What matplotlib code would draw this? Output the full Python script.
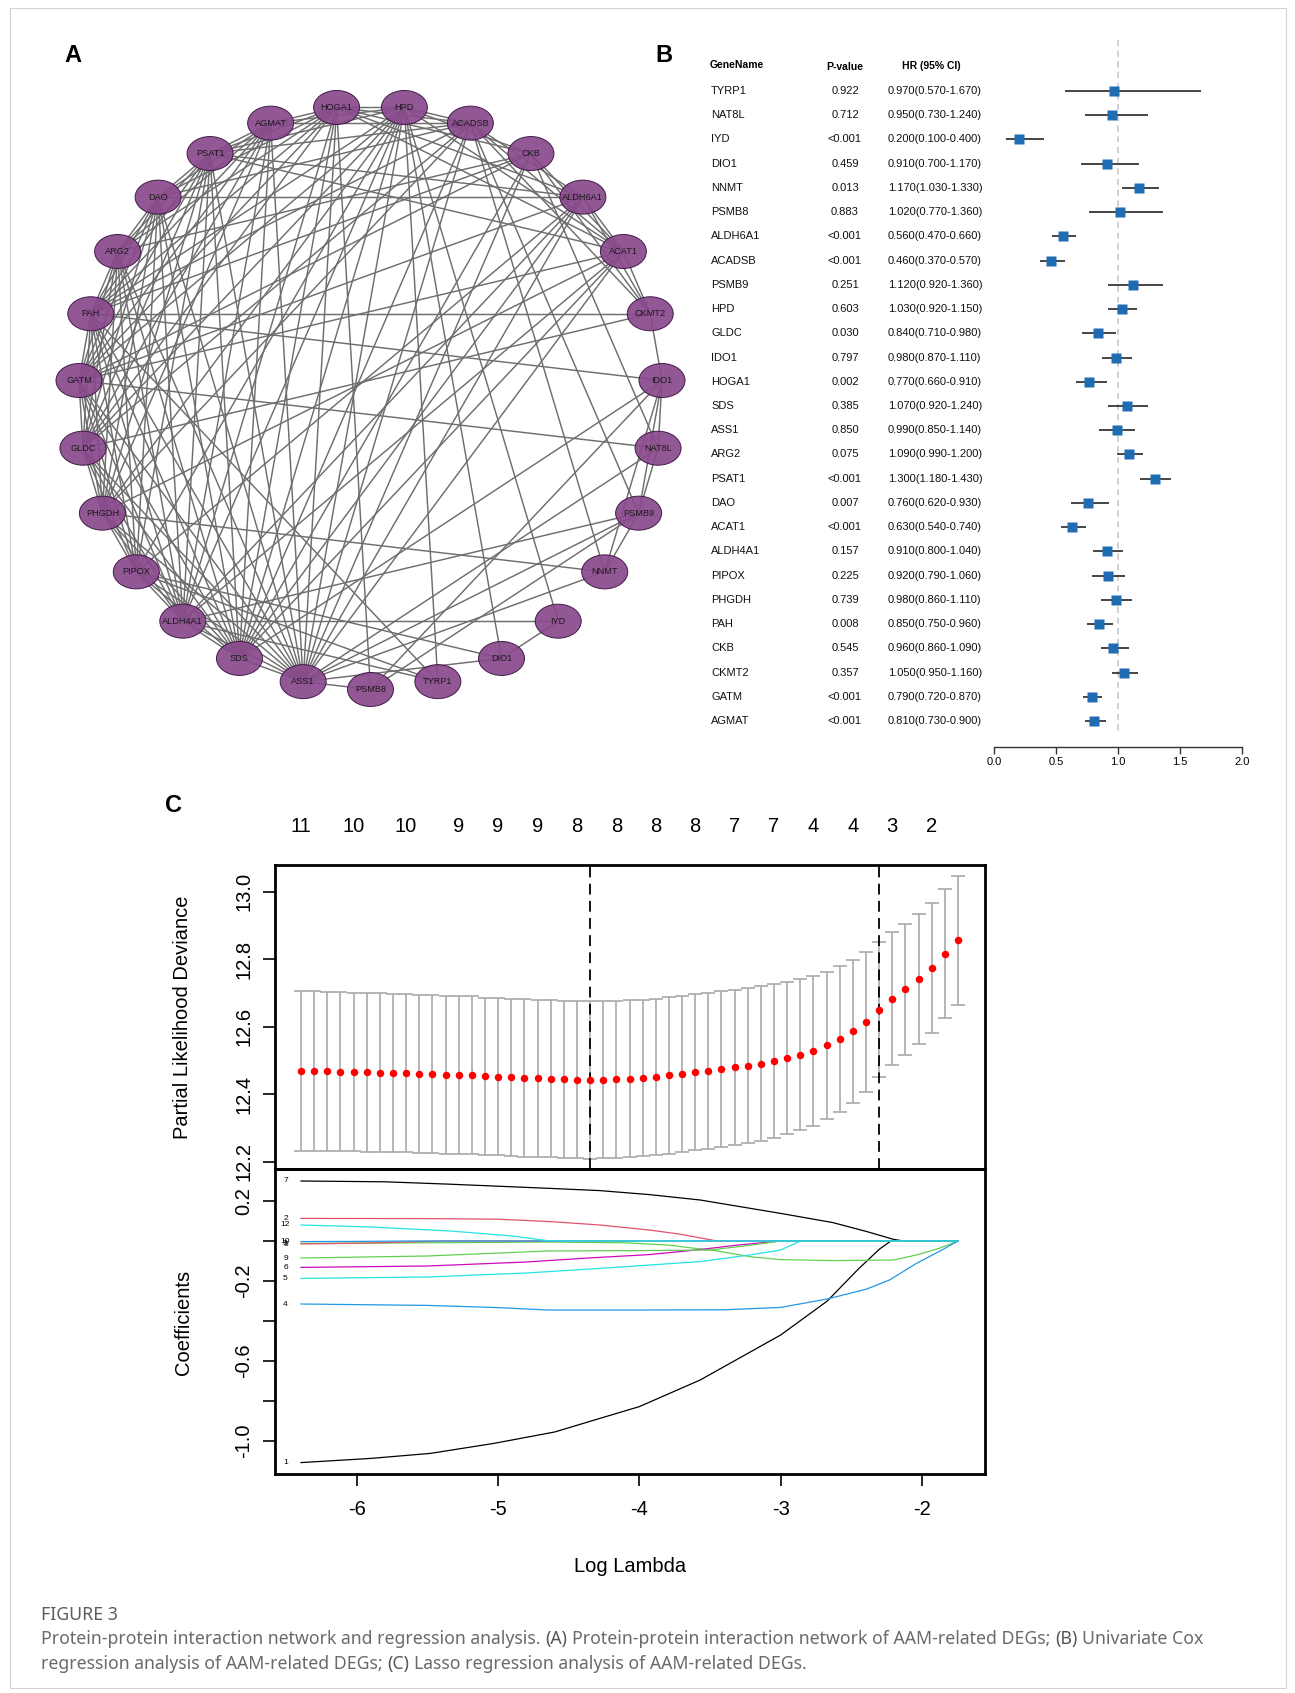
import matplotlib
matplotlib.use('Agg')
import matplotlib.pyplot as plt
from matplotlib.patches import Ellipse, Rectangle
import numpy as np

W, H, DPI = 1295, 1693, 100
plt.rcParams['font.family'] = ['Liberation Sans', 'DejaVu Sans']

# ---------------- data ----------------
# Panel A: PPI network (circular layout, clockwise from top)
net_nodes = ['HPD', 'ACADSB', 'CKB', 'ALDH6A1', 'ACAT1', 'CKMT2', 'IDO1', 'NAT8L',
             'PSMB9', 'NNMT', 'IYD', 'DIO1', 'TYRP1', 'PSMB8', 'ASS1', 'SDS',
             'ALDH4A1', 'PIPOX', 'PHGDH', 'GLDC', 'GATM', 'PAH', 'ARG2', 'DAO',
             'PSAT1', 'AGMAT', 'HOGA1']
core_nodes = ['ASS1', 'SDS', 'ALDH4A1', 'PIPOX', 'PHGDH', 'GLDC', 'GATM', 'PAH',
              'ARG2', 'DAO', 'PSAT1', 'AGMAT', 'HOGA1']
core_missing = [('PIPOX', 'AGMAT'), ('PIPOX', 'HOGA1'), ('PHGDH', 'HOGA1')]
extra_edges = [
    ('HPD', 'HOGA1'), ('HPD', 'AGMAT'), ('HPD', 'PSAT1'), ('HPD', 'PAH'), ('HPD', 'GATM'),
    ('HPD', 'GLDC'), ('HPD', 'PHGDH'), ('HPD', 'ASS1'), ('HPD', 'SDS'), ('HPD', 'ALDH4A1'),
    ('HPD', 'TYRP1'), ('HPD', 'DIO1'), ('HPD', 'IYD'), ('HPD', 'ACADSB'), ('HPD', 'CKB'),
    ('HPD', 'ACAT1'), ('HPD', 'PIPOX'),
    ('ACADSB', 'ALDH6A1'), ('ACADSB', 'ACAT1'), ('ACADSB', 'CKMT2'), ('ACADSB', 'HOGA1'),
    ('ACADSB', 'AGMAT'), ('ACADSB', 'PSAT1'), ('ACADSB', 'ASS1'), ('ACADSB', 'SDS'),
    ('ACADSB', 'PHGDH'), ('ACADSB', 'GLDC'), ('ACADSB', 'PAH'), ('ACADSB', 'PSMB9'),
    ('ACADSB', 'NNMT'), ('ACADSB', 'DAO'),
    ('CKB', 'CKMT2'), ('CKB', 'GATM'), ('CKB', 'ACAT1'), ('CKB', 'HOGA1'), ('CKB', 'ASS1'),
    ('CKB', 'ARG2'), ('CKB', 'PAH'), ('CKB', 'NAT8L'), ('CKB', 'SDS'),
    ('ALDH6A1', 'DAO'), ('ALDH6A1', 'ACAT1'), ('ALDH6A1', 'CKMT2'), ('ALDH6A1', 'ASS1'),
    ('ALDH6A1', 'SDS'), ('ALDH6A1', 'PIPOX'), ('ALDH6A1', 'GATM'), ('ALDH6A1', 'ALDH4A1'),
    ('ALDH6A1', 'HOGA1'), ('ALDH6A1', 'PSAT1'),
    ('ACAT1', 'CKMT2'), ('ACAT1', 'ASS1'), ('ACAT1', 'SDS'), ('ACAT1', 'GATM'),
    ('ACAT1', 'ALDH4A1'), ('ACAT1', 'PSAT1'), ('ACAT1', 'HOGA1'), ('ACAT1', 'PHGDH'),
    ('CKMT2', 'PAH'), ('CKMT2', 'GLDC'), ('CKMT2', 'IDO1'),
    ('IDO1', 'PAH'), ('IDO1', 'PSMB9'), ('IDO1', 'PSMB8'), ('IDO1', 'SDS'), ('IDO1', 'NNMT'),
    ('IDO1', 'NAT8L'),
    ('NAT8L', 'GATM'), ('NAT8L', 'ASS1'), ('NAT8L', 'PSMB9'),
    ('PSMB9', 'PSMB8'), ('PSMB9', 'NNMT'), ('PSMB9', 'ASS1'), ('PSMB9', 'ALDH4A1'),
    ('NNMT', 'PHGDH'), ('NNMT', 'ASS1'),
    ('IYD', 'ALDH4A1'), ('IYD', 'DIO1'),
    ('DIO1', 'PIPOX'), ('DIO1', 'ASS1'),
    ('TYRP1', 'PAH'), ('TYRP1', 'ALDH4A1'), ('TYRP1', 'PIPOX'),
    ('PSMB8', 'ASS1'), ('PSMB8', 'HOGA1'),
]

# Panel B: univariate Cox
genes = ['TYRP1', 'NAT8L', 'IYD', 'DIO1', 'NNMT', 'PSMB8', 'ALDH6A1', 'ACADSB', 'PSMB9',
         'HPD', 'GLDC', 'IDO1', 'HOGA1', 'SDS', 'ASS1', 'ARG2', 'PSAT1', 'DAO', 'ACAT1',
         'ALDH4A1', 'PIPOX', 'PHGDH', 'PAH', 'CKB', 'CKMT2', 'GATM', 'AGMAT']
pvals = ['0.922', '0.712', '<0.001', '0.459', '0.013', '0.883', '<0.001', '<0.001', '0.251',
         '0.603', '0.030', '0.797', '0.002', '0.385', '0.850', '0.075', '<0.001', '0.007',
         '<0.001', '0.157', '0.225', '0.739', '0.008', '0.545', '0.357', '<0.001', '<0.001']
hr = [0.97, 0.95, 0.20, 0.91, 1.17, 1.02, 0.56, 0.46, 1.12, 1.03, 0.84, 0.98, 0.77, 1.07,
      0.99, 1.09, 1.30, 0.76, 0.63, 0.91, 0.92, 0.98, 0.85, 0.96, 1.05, 0.79, 0.81]
hr_lo = [0.57, 0.73, 0.10, 0.70, 1.03, 0.77, 0.47, 0.37, 0.92, 0.92, 0.71, 0.87, 0.66, 0.92,
         0.85, 0.99, 1.18, 0.62, 0.54, 0.80, 0.79, 0.86, 0.75, 0.86, 0.95, 0.72, 0.73]
hr_hi = [1.67, 1.24, 0.40, 1.17, 1.33, 1.36, 0.66, 0.57, 1.36, 1.15, 0.98, 1.11, 0.91, 1.24,
         1.14, 1.20, 1.43, 0.93, 0.74, 1.04, 1.06, 1.11, 0.96, 1.09, 1.16, 0.87, 0.90]
forest_ticks = [0.0, 0.5, 1.0, 1.5, 2.0]

# Panel C: LASSO CV
log_lambda = [-6.395, -6.302, -6.209, -6.116, -6.023, -5.930, -5.837, -5.744, -5.651, -5.558,
              -5.465, -5.372, -5.279, -5.186, -5.093, -5.000, -4.907, -4.814, -4.721, -4.628,
              -4.535, -4.442, -4.349, -4.256, -4.163, -4.070, -3.977, -3.884, -3.791, -3.698,
              -3.605, -3.512, -3.419, -3.326, -3.233, -3.140, -3.047, -2.954, -2.861, -2.768,
              -2.675, -2.582, -2.489, -2.396, -2.303, -2.210, -2.117, -2.024, -1.931, -1.838,
              -1.745]
cv_mean = [12.468, 12.468, 12.467, 12.466, 12.465, 12.464, 12.463, 12.462, 12.461, 12.460,
           12.459, 12.457, 12.456, 12.455, 12.453, 12.452, 12.450, 12.448, 12.447, 12.446,
           12.444, 12.443, 12.442, 12.443, 12.444, 12.446, 12.448, 12.451, 12.455, 12.460,
           12.464, 12.469, 12.474, 12.479, 12.484, 12.490, 12.497, 12.507, 12.517, 12.528,
           12.544, 12.563, 12.586, 12.613, 12.650, 12.683, 12.710, 12.741, 12.773, 12.816,
           12.855]
cv_sd = [0.236, 0.236, 0.236, 0.235, 0.235, 0.235, 0.235, 0.235, 0.234, 0.234,
         0.234, 0.234, 0.234, 0.234, 0.233, 0.233, 0.233, 0.233, 0.233, 0.233,
         0.233, 0.233, 0.233, 0.233, 0.233, 0.232, 0.232, 0.232, 0.232, 0.231,
         0.231, 0.231, 0.230, 0.230, 0.229, 0.229, 0.228, 0.226, 0.224, 0.222,
         0.219, 0.216, 0.212, 0.207, 0.200, 0.197, 0.195, 0.193, 0.192, 0.191,
         0.190]
nzero_index = [0, 4, 8, 12, 15, 18, 21, 24, 27, 30, 33, 36, 39, 42, 45, 48]
nzero_labels = ['11', '10', '10', '9', '9', '9', '8', '8', '8', '8', '7', '7', '4', '4', '3', '2']
lambda_min_log = -4.349
lambda_1se_log = -2.303

# coefficient paths (label, colour, log-lambda knots, coefficient values)
coef_labels = ['1', '2', '3', '4', '5', '6', '7', '8', '9', '10', '12']
coef_colors = ['#000000', '#DF536B', '#61D04F', '#2297E6', '#28E2E5', '#CD0BBC',
               '#000000', '#DF536B', '#61D04F', '#2297E6', '#28E2E5']
coef_x = [
    [-6.395, -5.9, -5.48, -5.03, -4.6, -4.28, -4.0, -3.57, -3.0, -2.67, -2.45, -2.3, -2.22, -1.745],
    [-6.395, -5.5, -5.0, -4.63, -4.28, -3.93, -3.72, -3.45, -1.745],
    [-6.395, -5.5, -4.65, -4.1, -3.8, -3.45, -3.2, -3.0, -2.63, -2.2, -2.04, -1.88, -1.745],
    [-6.395, -5.5, -5.0, -4.65, -4.0, -3.4, -3.0, -2.67, -2.39, -2.23, -2.04, -1.88, -1.745],
    [-6.395, -5.5, -4.8, -4.28, -3.57, -3.22, -3.0, -2.86, -1.745],
    [-6.395, -5.5, -4.8, -4.36, -3.93, -3.6, -3.3, -3.0, -1.745],
    [-6.395, -5.8, -5.34, -4.63, -4.28, -3.93, -3.57, -3.0, -2.63, -2.39, -2.2, -2.13, -1.745],
    [-6.395, -5.9, -5.4, -1.745],
    [-6.395, -5.5, -4.65, -4.0, -3.5, -3.2, -3.0, -1.745],
    [-6.395, -6.0, -5.6, -1.745],
    [-6.395, -5.9, -5.34, -4.9, -4.63, -1.745],
]
coef_y = [
    [-1.108, -1.087, -1.062, -1.012, -0.955, -0.887, -0.828, -0.695, -0.47, -0.30, -0.14, -0.04, 0.0, 0.0],
    [0.113, 0.112, 0.109, 0.097, 0.08, 0.055, 0.035, 0.0, 0.0],
    [-0.012, -0.009, -0.005, -0.009, -0.02, -0.05, -0.08, -0.093, -0.098, -0.095, -0.07, -0.037, 0.0],
    [-0.315, -0.322, -0.333, -0.345, -0.345, -0.344, -0.332, -0.29, -0.24, -0.195, -0.112, -0.053, 0.0],
    [-0.187, -0.18, -0.16, -0.137, -0.103, -0.07, -0.045, 0.0, 0.0],
    [-0.132, -0.125, -0.105, -0.085, -0.068, -0.045, -0.02, 0.0, 0.0],
    [0.300, 0.296, 0.284, 0.263, 0.252, 0.232, 0.205, 0.138, 0.092, 0.047, 0.008, 0.0, 0.0],
    [-0.015, -0.01, 0.0, 0.0],
    [-0.085, -0.075, -0.05, -0.048, -0.045, -0.02, 0.0, 0.0],
    [-0.003, -0.002, 0.0, 0.0],
    [0.08, 0.07, 0.05, 0.025, 0.0, 0.0],
]

caption_title = 'FIGURE 3'
caption_lines = [
    [('Protein-protein interaction network and regression analysis.', False), ('(A)', True),
     ('Protein-protein interaction network of AAM-related DEGs;', False), ('(B)', True),
     ('Univariate Cox', False)],
    [('regression analysis of AAM-related DEGs;', False), ('(C)', True),
     ('Lasso regression analysis of AAM-related DEGs.', False)],
]

# ---------------- figure ----------------
fig = plt.figure(figsize=(W / DPI, H / DPI), dpi=DPI)
ov = fig.add_axes([0, 0, 1, 1])
ov.set_xlim(0, W)
ov.set_ylim(H, 0)
ov.axis('off')


def px_axes(x0, y0, x1, y1):
    return fig.add_axes([x0 / W, 1 - y1 / H, (x1 - x0) / W, (y1 - y0) / H])


ov.add_patch(Rectangle((10, 8), 1276, 1680, fill=False, edgecolor='#d2d2d2', lw=0.8))

# ---- Panel A ----
cx, cy, R = 370.5, 397.5, 292.0
step = 360.0 / len(net_nodes)
pos = {}
for k, nname in enumerate(net_nodes):
    th = np.deg2rad(90 - step / 2 - k * step)
    pos[nname] = (cx + R * np.cos(th), cy - R * np.sin(th))

edges = []
for i, a in enumerate(core_nodes):
    for b in core_nodes[i + 1:]:
        if (a, b) not in core_missing and (b, a) not in core_missing:
            edges.append((a, b))
edges += extra_edges
for a, b in edges:
    ov.plot([pos[a][0], pos[b][0]], [pos[a][1], pos[b][1]], color='#6e6e6e',
            lw=1.05, zorder=1, solid_capstyle='butt')
for nname in net_nodes:
    ov.add_patch(Ellipse(pos[nname], 46, 34, facecolor='#8a4a8d', edgecolor='#3a1240',
                         lw=0.7, alpha=0.93, zorder=2))
    ov.text(pos[nname][0], pos[nname][1], nname, fontsize=6.6, ha='center', va='center',
            color='#1b1b1b', zorder=3)
ov.text(73, 56, 'A', fontsize=17, fontweight='bold', ha='center', va='center')

# ---- Panel B ----
row0, drow = 91.0, 24.23
ytop, ybot = 35, 747
axf = px_axes(994, ytop, 1242, ybot)
rows = np.arange(len(genes))
axf.set_xlim(forest_ticks[0], forest_ticks[-1])
axf.set_ylim((ybot - row0) / drow, (ytop - row0) / drow)
axf.vlines(1.0, (40 - row0) / drow, (733 - row0) / drow, colors='#c4c4c4',
           linestyles=(0, (4, 3)), lw=1.1, zorder=1)
axf.hlines(rows, hr_lo, hr_hi, color='#262626', lw=1.2, zorder=2)
axf.plot(hr, rows, 's', color='#1f6cb3', ms=6.6, mec='none', zorder=3, clip_on=False)
for sp in ['top', 'right', 'left']:
    axf.spines[sp].set_visible(False)
axf.spines['bottom'].set_linewidth(1.0)
axf.spines['bottom'].set_color('#333333')
axf.set_yticks([])
axf.set_xticks(forest_ticks)
axf.set_xticklabels(['%.1f' % t for t in forest_ticks])
axf.tick_params(axis='x', direction='out', length=5, width=1.0, labelsize=8, pad=2,
                color='#333333')
axf.patch.set_alpha(0)

ov.text(710, 65, 'GeneName', fontsize=7.5, fontweight='bold', ha='left', va='center')
ov.text(845, 67, 'P-value', fontsize=7.5, fontweight='bold', ha='center', va='center')
ov.text(931, 66, 'HR (95% CI)', fontsize=7.5, fontweight='bold', ha='center', va='center')
for i, g in enumerate(genes):
    y = row0 + i * drow
    ov.text(711, y, g, fontsize=8, ha='left', va='center', color='#111111')
    ov.text(845, y, pvals[i], fontsize=8, ha='center', va='center', color='#111111')
    ov.text(888, y, '%.3f(%.3f-%.3f)' % (hr[i], hr_lo[i], hr_hi[i]), fontsize=8,
            ha='left', va='center', color='#111111')
ov.text(664, 55, 'B', fontsize=17, fontweight='bold', ha='center', va='center')

# ---- Panel C ----
xl = (-6.579, -1.554)
axt = px_axes(275, 865, 985, 1169)
axb = px_axes(275, 1169, 985, 1474)
for ax in (axt, axb):
    ax.set_xlim(*xl)
    for sp in ax.spines.values():
        sp.set_linewidth(2.0)
    ax.patch.set_alpha(0)

axt.set_ylim(12.178, 13.0785)
axt.errorbar(log_lambda, cv_mean, yerr=cv_sd, fmt='none', ecolor='#a9a9a9',
             elinewidth=1.2, capsize=4.7, capthick=1.2, zorder=1)
axt.plot(log_lambda, cv_mean, 'o', color='#ff0000', ms=5.4, mec='none', zorder=3)
for lv in (lambda_min_log, lambda_1se_log):
    axt.axvline(lv, color='black', lw=1.3, ls=(0, (6, 3.5)), zorder=2)
axt.set_xticks([])
yt = [12.2, 12.4, 12.6, 12.8, 13.0]
axt.set_yticks(yt)
axt.set_yticklabels(['%.1f' % v for v in yt], rotation=90, va='center')
axt.tick_params(axis='y', length=8.8, width=1.2, labelsize=14.5, pad=7)
for idx, lab in zip(nzero_index, nzero_labels):
    axt.text(log_lambda[idx], 1 + (865 - 827) / (1169 - 865), lab, fontsize=14.5,
             ha='center', va='center', transform=axt.get_xaxis_transform())

axb.set_ylim(-1.165, 0.36)
for k in range(len(coef_labels)):
    axb.plot(coef_x[k], coef_y[k], color=coef_colors[k], lw=0.9, zorder=2)
    axb.text(-6.505, coef_y[k][0], coef_labels[k], fontsize=6, ha='center', va='center')
ybt = [0.2, 0.0, -0.2, -0.4, -0.6, -0.8, -1.0]
axb.set_yticks(ybt)
axb.set_yticklabels(['0.2', '', '-0.2', '', '-0.6', '', '-1.0'], rotation=90, va='center')
axb.tick_params(axis='y', length=8.8, width=1.2, labelsize=14.5, pad=7)
xt = [-6, -5, -4, -3, -2]
axb.set_xticks(xt)
axb.set_xticklabels(['%d' % v for v in xt])
axb.tick_params(axis='x', length=8.8, width=1.2, labelsize=14.5, pad=10)

ov.text(183, 1017, 'Partial Likelihood Deviance', rotation=90, fontsize=14.5,
        ha='center', va='center')
ov.text(183, 1322, 'Coefficients', rotation=90, fontsize=14.5, ha='center', va='center')
ov.text(630, 1567, 'Log Lambda', fontsize=14.5, ha='center', va='center')
ov.text(173, 806, 'C', fontsize=17, fontweight='bold', ha='center', va='center')

# ---- caption ----
fig.canvas.draw()
renderer = fig.canvas.get_renderer()
cap_family = ['Noto Sans', 'DejaVu Sans']


def measure(s, fs, bold):
    t = ov.text(0, 0, s, fontsize=fs, fontweight='bold' if bold else 'normal',
                family=cap_family)
    w = t.get_window_extent(renderer).width
    t.remove()
    return w


def line_width(segs, fs):
    sp = measure('x x', fs, False) - measure('xx', fs, False)
    total = 0.0
    for j, (s, b) in enumerate(segs):
        total += measure(s, fs, b)
        if j < len(segs) - 1:
            total += sp
    return total


fs0 = 12.0
fs = fs0 * (1198 - 41) / line_width(caption_lines[0], fs0)
ov.text(41, 1615, caption_title, fontsize=fs, fontweight='bold', color='#5c5c5c',
        ha='left', va='center', family=cap_family)
sp = measure('x x', fs, False) - measure('xx', fs, False)
for li, (segs, yy) in enumerate(zip(caption_lines, [1639, 1664])):
    x = 41
    for s, b in segs:
        ov.text(x, yy, s, fontsize=fs, fontweight='bold' if b else 'normal',
                color='#555555' if b else '#6a6a6a', ha='left', va='center',
                family=cap_family)
        x += measure(s, fs, b) + sp

fig.savefig('out.png', dpi=DPI)
